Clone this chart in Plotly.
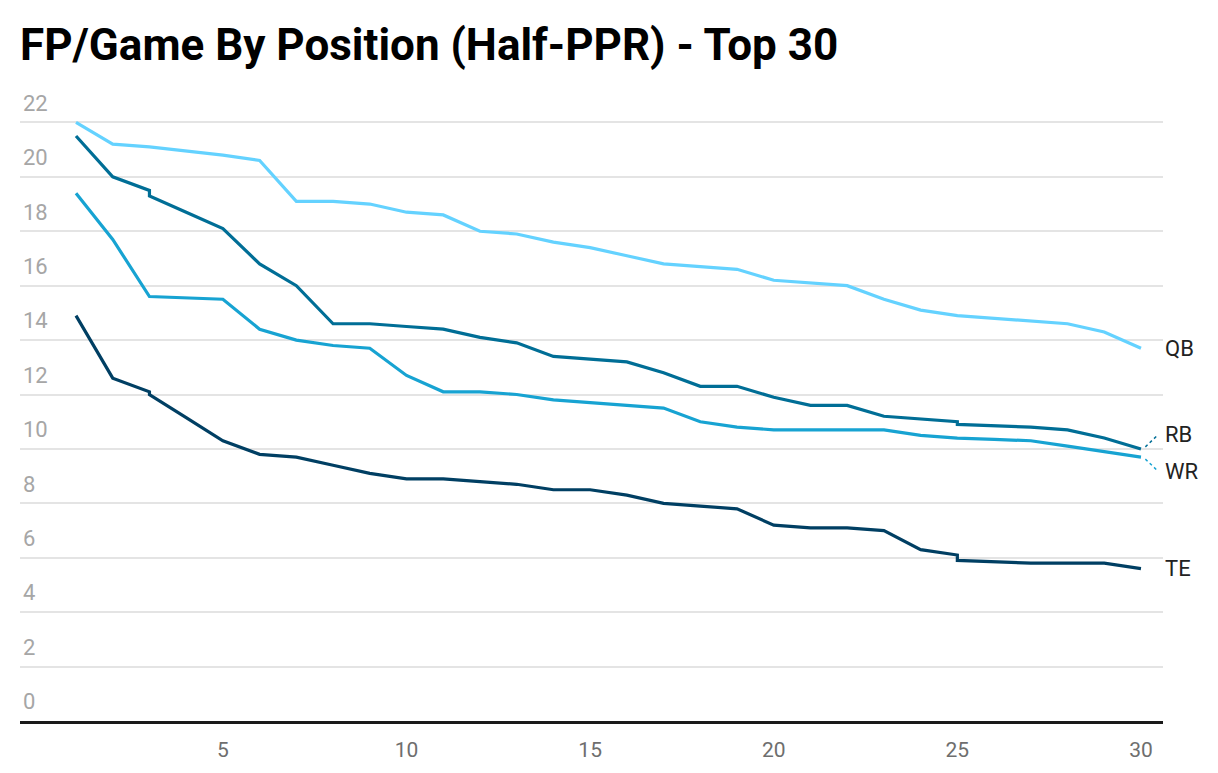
import plotly.graph_objects as go

# FP/game by positional rank (half-PPR), top 30 at each position
ranks = list(range(1, 31))
# RB and TE repeat rank 3 and 25 (two players tied on rank in the source table)
ranks_dup = [1, 2, 3, 3] + list(range(4, 26)) + [25] + list(range(26, 31))

qb = [22.0, 21.2, 21.1, 20.95, 20.8, 20.6, 19.1, 19.1, 19.0, 18.7,
      18.6, 18.0, 17.9, 17.6, 17.4, 17.1, 16.8, 16.7, 16.6, 16.2,
      16.1, 16.0, 15.5, 15.1, 14.9, 14.8, 14.7, 14.6, 14.3, 13.7]
rb = [21.5, 20.0, 19.5, 19.3, 18.7, 18.1, 16.8, 16.0, 14.6, 14.6, 14.5,
      14.4, 14.1, 13.9, 13.4, 13.3, 13.2, 12.8, 12.3, 12.3, 11.9,
      11.6, 11.6, 11.2, 11.1, 11.0, 10.9, 10.85, 10.8, 10.7, 10.4, 10.0]
wr = [19.4, 17.7, 15.6, 15.55, 15.5, 14.4, 14.0, 13.8, 13.7, 12.7,
      12.1, 12.1, 12.0, 11.8, 11.7, 11.6, 11.5, 11.0, 10.8, 10.7,
      10.7, 10.7, 10.7, 10.5, 10.4, 10.35, 10.3, 10.1, 9.9, 9.7]
te = [14.9, 12.6, 12.1, 12.0, 11.15, 10.3, 9.8, 9.7, 9.4, 9.1, 8.9,
      8.9, 8.8, 8.7, 8.5, 8.5, 8.3, 8.0, 7.9, 7.8, 7.2,
      7.1, 7.1, 7.0, 6.3, 6.1, 5.9, 5.85, 5.8, 5.8, 5.8, 5.6]
y_ticks = [0, 2, 4, 6, 8, 10, 12, 14, 16, 18, 20, 22]

series = [
    ("QB", ranks, qb, "#64d2ff", 0),
    ("RB", ranks_dup, rb, "#006e96", 14),
    ("WR", ranks, wr, "#17a3d2", -14),
    ("TE", ranks_dup, te, "#003f63", 0),
]

fig = go.Figure()
for name, xs, ys, color, shift in series:
    fig.add_trace(go.Scatter(
        x=xs, y=ys, mode="lines", name=name,
        line=dict(color=color, width=3.2),
        hoverinfo="x+y+name",
    ))
    fig.add_annotation(
        x=xs[-1], y=ys[-1], xref="x", yref="y",
        text=name, showarrow=False, xanchor="left", yanchor="middle",
        xshift=22, yshift=shift,
        font=dict(family="Roboto", size=22, color="#222222"),
    )
    if shift:
        # dotted connector from line end to the offset label
        dy = 0.5 if shift > 0 else -0.5
        fig.add_shape(
            type="line", xref="x", yref="y",
            x0=xs[-1] + 0.12, y0=ys[-1] + dy * 0.15,
            x1=xs[-1] + 0.45, y1=ys[-1] + dy,
            line=dict(color=color, width=1.5, dash="dot"),
        )

# page has an 8px body margin, so margins below are shifted to compensate
fig.update_layout(
    width=1218, height=773,
    margin=dict(l=12, r=63, t=60, b=60),
    paper_bgcolor="white", plot_bgcolor="white",
    showlegend=False,
    font=dict(family="Roboto"),
    title=dict(
        text="<b>FP/Game By Position (Half-PPR) - Top 30</b>",
        x=12 / 1218, xanchor="left", xref="container",
        y=1 - 37 / 773, yanchor="middle", yref="container",
        font=dict(family="Roboto", size=44, color="#000000"),
    ),
)
fig.update_yaxes(
    range=[0, 24], tickvals=y_ticks,
    showgrid=True, gridcolor="#e4e4e4", gridwidth=1.5,
    zeroline=False, showline=False,
    ticklabelposition="inside top", ticklabelshift=-4,
    tickfont=dict(family="Roboto", size=22, color="#a6a6a6"),
    fixedrange=True,
)
fig.update_xaxes(
    range=[-0.525, 30.6],
    tickvals=[5, 10, 15, 20, 25, 30],
    showgrid=False, zeroline=False,
    showline=True, linecolor="#1a1a1a", linewidth=2.5,
    ticks="outside", ticklen=8, tickcolor="rgba(0,0,0,0)",
    tickfont=dict(family="Roboto", size=21, color="#6e6e6e"),
    fixedrange=True,
)

fig.write_html("out.html")
